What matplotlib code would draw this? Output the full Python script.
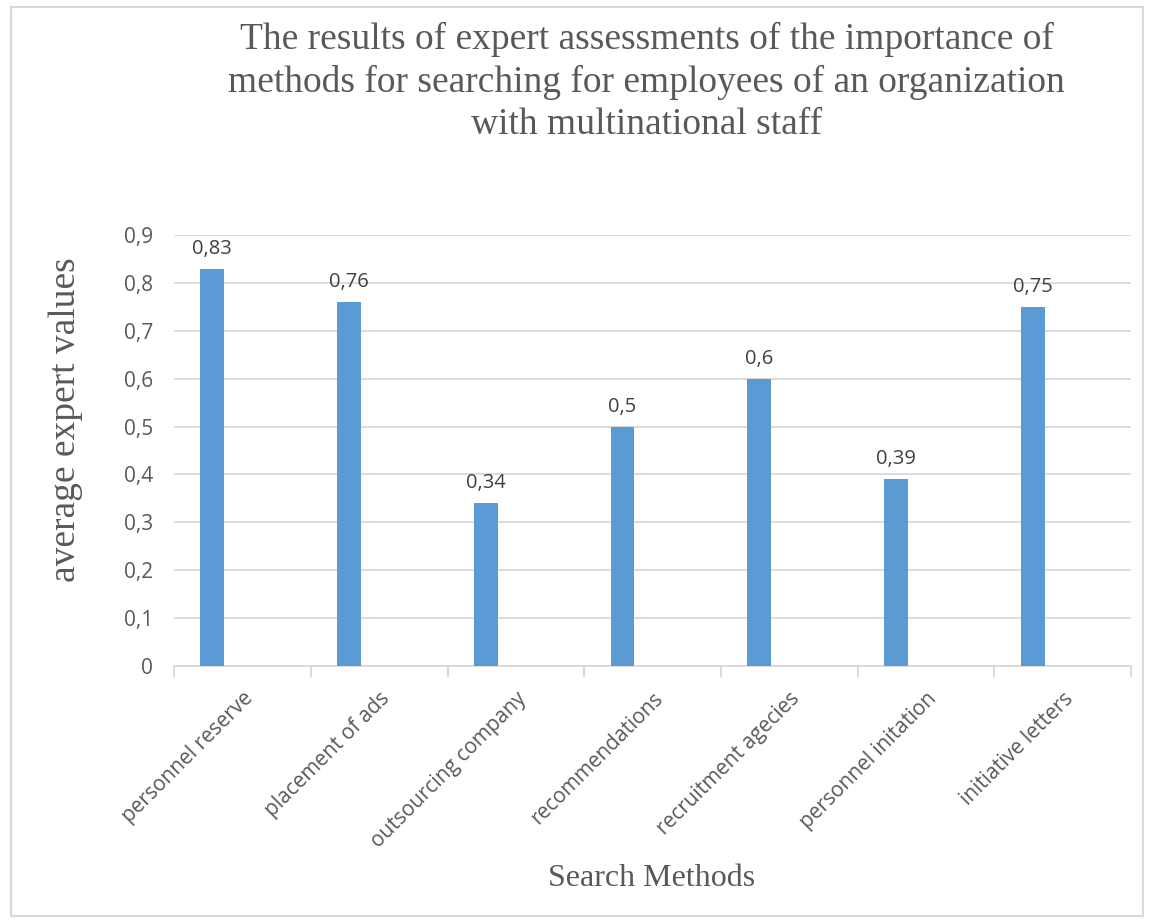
import numpy as np
import matplotlib.pyplot as plt
from matplotlib.patches import Rectangle

methods = ['personnel reserve', 'placement of ads', 'outsourcing company',
           'recommendations', 'recruitment agecies', 'personnel initation',
           'initiative letters']
values = [0.83, 0.76, 0.34, 0.5, 0.6, 0.39, 0.75]
yticks = [0, 0.1, 0.2, 0.3, 0.4, 0.5, 0.6, 0.7, 0.8, 0.9]

txt = '#595959'
grid = '#D9D9D9'
blue = '#5B9BD5'

fig = plt.figure(figsize=(11.53, 9.23), dpi=100)
ax = fig.add_axes([0.151, 0.2785, 0.83, 0.4669])

x = np.arange(len(methods))
# bars sit left of the category centre (excel cluster with empty 2nd series)
xb = x - 0.22
ax.bar(xb, values, width=0.175, color=blue, zorder=3)
for xi, v in zip(xb, values):
    lab = ('%g' % v).replace('.', ',')
    ax.annotate(lab, (xi, v), xytext=(0, 7), textcoords='offset points',
                ha='center', va='bottom', fontsize=14.5, color='#404040',
                family='Open Sans')

ax.set_xlim(-0.5, len(methods) - 0.5)
ax.set_ylim(0, 0.9)
ax.set_yticks(yticks)
ax.set_yticklabels([('%g' % t).replace('.', ',') for t in yticks],
                   fontsize=15, color=txt, family='Open Sans')
ax.yaxis.grid(True, color=grid, lw=1.3, zorder=0)
ax.tick_params(axis='y', length=0, pad=15)

ax.set_xticks(x)
ax.set_xticklabels(methods, rotation=45, ha='right', rotation_mode='anchor',
                   fontsize=15, color=txt, family='Open Sans')
ax.tick_params(axis='x', length=0, pad=16)
ax.set_xticks(np.arange(len(methods) + 1) - 0.5, minor=True)
ax.tick_params(axis='x', which='minor', length=8, color=grid, width=1.3)

for s in ['top', 'right', 'left']:
    ax.spines[s].set_visible(False)
ax.spines['bottom'].set_color(grid)
ax.spines['bottom'].set_linewidth(1.3)

fig.text(0.561, 0.976, 'The results of expert assessments of the importance of\n'
         'methods for searching for employees of an organization\n'
         'with multinational staff', ha='center', va='top', fontsize=27,
         color=txt, family='Liberation Serif', linespacing=1.28)
fig.text(0.057, 0.545, 'average expert values', rotation=90, ha='center',
         va='center', fontsize=27, color=txt, family='Liberation Serif')
fig.text(0.565, 0.048, 'Search Methods', ha='center', va='center',
         fontsize=23, color=txt, family='Liberation Serif')

fig.patches.append(Rectangle((0.0095, 0.008), 0.982, 0.984, transform=fig.transFigure,
                             fill=False, edgecolor='#D9D9D9', lw=1.5))

plt.savefig('out.png')
